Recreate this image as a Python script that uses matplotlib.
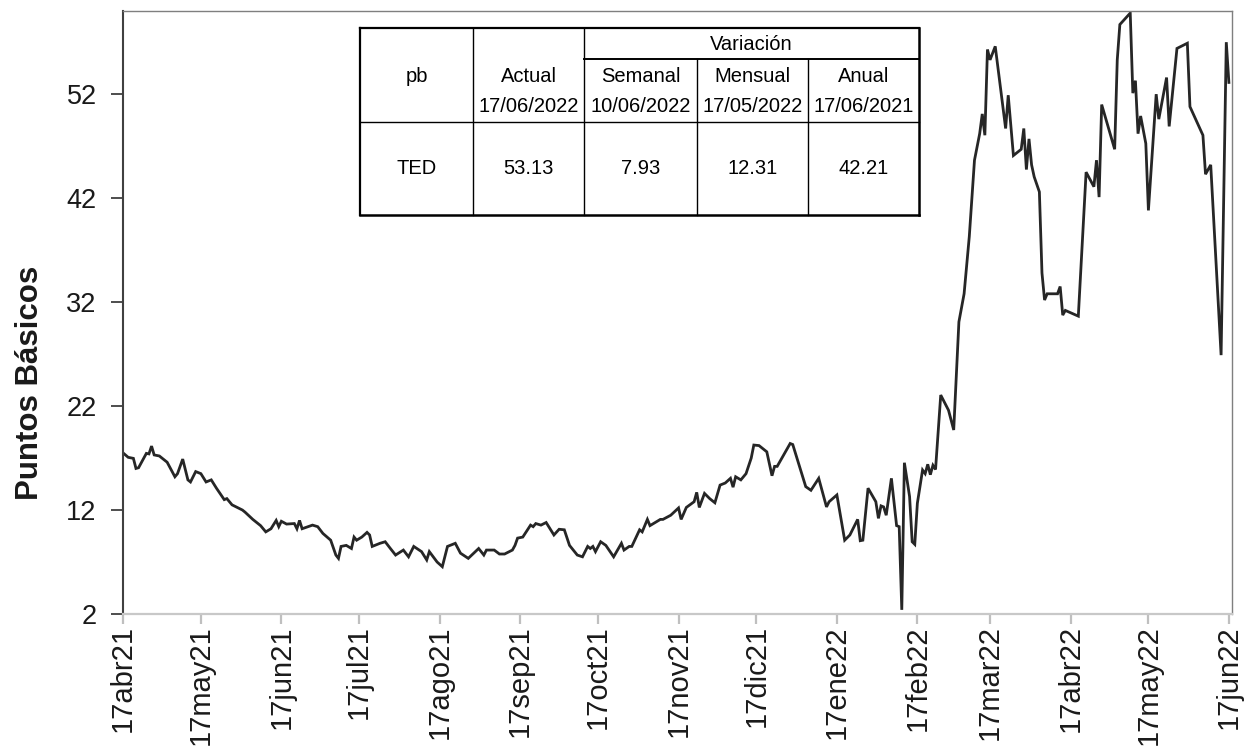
import matplotlib
matplotlib.use("Agg")
import matplotlib.pyplot as plt
from matplotlib.lines import Line2D
import pandas as pd

plt.rcParams['font.family'] = ['Liberation Sans', 'DejaVu Sans']

# ---------------- data ----------------
start_date = "2021-04-17"
day_offsets = [0, 2, 4, 5, 6, 9, 10, 11, 12, 14, 17, 20, 21, 23, 25, 26, 28, 30, 32, 34, 36, 39, 40, 42, 46, 47,
               50, 53, 55, 57, 59, 60, 61, 63, 66, 67, 68, 69, 73, 75, 77, 80, 82, 83, 84, 86, 88, 89, 90, 92, 94,
               95, 96, 99, 101, 103, 105, 108, 110, 112, 115, 117, 118, 121, 123, 125, 128, 130, 133, 137, 139,
               140, 143, 145, 147, 150, 151, 152, 154, 157, 158, 159, 161, 163, 166, 168, 170, 172, 175, 177, 179,
               180, 181, 182, 184, 186, 189, 192, 193, 195, 196, 199, 200, 202, 203, 207, 208, 211, 214, 215, 217,
               220, 221, 222, 224, 226, 228, 230, 232, 234, 235, 236, 238, 240, 242, 243, 245, 247, 248, 250, 251,
               252, 257, 258, 263, 265, 268, 271, 272, 275, 278, 280, 283, 284, 285, 287, 290, 291, 292, 293, 294,
               296, 298, 299, 300, 301, 303, 304, 305, 306, 308, 309, 310, 311, 312, 313, 315, 318, 320, 322, 324,
               326, 328, 330, 331, 332, 333, 334, 336, 340, 341, 343, 346, 347, 348, 349, 350, 351, 353, 354, 355,
               356, 360, 361, 362, 363, 368, 371, 374, 375, 376, 377, 382, 383, 384, 388, 389, 390, 391, 392, 394,
               395, 398, 399, 402, 403, 406, 410, 411, 416, 417, 419, 423, 425, 426]
ted_values = [17.5, 17.07, 16.97, 16.0, 16.07, 17.45, 17.4, 18.15, 17.3, 17.2, 16.6, 15.2, 15.5, 16.9, 14.9, 14.7,
              15.7, 15.5, 14.7, 14.9, 14.1, 13.0, 13.1, 12.5, 12.0, 11.8, 11.1, 10.5, 9.9, 10.2, 11.0, 10.4, 10.92,
              10.65, 10.7, 10.2, 11.0, 10.2, 10.55, 10.4, 9.75, 9.1, 7.67, 7.35, 8.5, 8.6, 8.3, 9.4, 9.1, 9.4, 9.85,
              9.6, 8.5, 8.8, 8.95, 8.3, 7.67, 8.15, 7.5, 8.5, 8.0, 7.2, 8.0, 7.0, 6.55, 8.5, 8.8, 7.85, 7.35, 8.3,
              7.67, 8.15, 8.15, 7.77, 7.77, 8.15, 8.6, 9.3, 9.4, 10.55, 10.4, 10.7, 10.55, 10.8, 9.6, 10.15, 10.1,
              8.6, 7.67, 7.5, 8.5, 8.3, 8.5, 8.0, 8.95, 8.6, 7.5, 8.8, 8.15, 8.5, 8.5, 10.1, 9.9, 11.1, 10.5, 11.1,
              11.1, 11.5, 12.2, 11.1, 12.25, 12.8, 13.7, 12.25, 13.6, 13.1, 12.7, 14.4, 14.6, 15.05, 14.2, 15.2,
              14.9, 15.5, 17.0, 18.25, 18.2, 17.8, 17.6, 15.3, 16.2, 16.2, 18.4, 18.3, 14.25, 13.9, 15.05, 12.3,
              12.8, 13.45, 9.1, 9.6, 11.1, 9.05, 9.1, 14.1, 12.8, 11.2, 12.4, 12.3, 11.5, 15.05, 10.5, 10.4, 2.4,
              16.55, 13.3, 8.95, 8.7, 12.65, 15.85, 15.5, 16.4, 15.4, 16.3, 15.9, 23.06, 21.6, 19.7, 30.1, 32.8,
              38.3, 45.65, 48.2, 50.1, 48.05, 56.3, 55.3, 56.6, 48.7, 51.9, 46.1, 46.7, 48.7, 44.75, 47.7, 45.2,
              44.05, 42.6, 34.8, 32.2, 32.8, 32.8, 33.5, 30.75, 31.2, 30.65, 44.5, 43.1, 45.65, 42.1, 51.0, 46.7,
              55.3, 58.7, 59.8, 52.1, 53.3, 48.2, 49.9, 47.25, 40.82, 52.0, 49.6, 53.6, 48.9, 56.4, 56.9, 50.8,
              48.05, 44.3, 45.2, 26.9, 57.0, 53.13]

tick_dates = ["2021-04-17", "2021-05-17", "2021-06-17", "2021-07-17", "2021-08-17", "2021-09-17",
              "2021-10-17", "2021-11-17", "2021-12-17", "2022-01-17", "2022-02-17", "2022-03-17",
              "2022-04-17", "2022-05-17", "2022-06-17"]
tick_labels = ["17abr21", "17may21", "17jun21", "17jul21", "17ago21", "17sep21", "17oct21", "17nov21",
               "17dic21", "17ene22", "17feb22", "17mar22", "17abr22", "17may22", "17jun22"]
y_ticks = [2, 12, 22, 32, 42, 52]

table_header = ["pb", "Actual", "Semanal", "Mensual", "Anual"]
table_dates = ["17/06/2022", "10/06/2022", "17/05/2022", "17/06/2021"]
table_row = ["TED", "53.13", "7.93", "12.31", "42.21"]

# ---------------- figure ----------------
W, H = 1251, 750
fig = plt.figure(figsize=(W / 100, H / 100), dpi=100)
ax = fig.add_axes([123 / W, 1 - 614 / H, (1232 - 123) / W, (614 - 11) / H])

dates = pd.Timestamp(start_date) + pd.to_timedelta(day_offsets, unit="D")
ax.plot(dates, ted_values, color="#262626", lw=2.0, solid_joinstyle="miter")

ax.set_ylim(2, 60)
ax.set_xlim(pd.Timestamp(start_date), pd.Timestamp(start_date) + pd.Timedelta(days=427.2))
ax.set_yticks(y_ticks)
ax.set_yticklabels([str(v) for v in y_ticks], fontsize=19.5, color="#1a1a1a")
ax.set_xticks(pd.to_datetime(tick_dates))
ax.set_xticklabels(tick_labels, rotation=90, fontsize=21, color="#1a1a1a")

ax.tick_params(axis="y", direction="out", length=9, width=1.3, color="#404040", pad=10)
ax.tick_params(axis="x", direction="out", length=7, width=1.6, color="#bfbfbf", pad=1)
ax.spines["left"].set_color("#404040")
ax.spines["left"].set_linewidth(1.5)
ax.spines["bottom"].set_color("#c8c8c8")
ax.spines["bottom"].set_linewidth(1.6)
for s in ("top", "right"):
    ax.spines[s].set_color("#7f7f7f")
    ax.spines[s].set_linewidth(1.0)

fig.text(30 / W, 1 - 383 / H, "Puntos Básicos", rotation=90, fontsize=22.5, fontweight="bold",
         ha="center", va="center", color="#1a1a1a")

# ---------------- table ----------------
def fx(x):
    return x / W


def fy(y):
    return 1 - y / H


def line(x0, y0, x1, y1, lw=1.0):
    fig.add_artist(Line2D([fx(x0), fx(x1)], [fy(y0), fy(y1)], color="black", lw=lw,
                          transform=fig.transFigure, solid_capstyle="projecting"))


col_x = [360, 473, 584, 697, 808, 919]
row_y = [28, 59, 122, 215]

fig.add_artist(plt.Rectangle((fx(col_x[0]), fy(row_y[-1])), fx(col_x[-1]) - fx(col_x[0]),
                             fy(row_y[0]) - fy(row_y[-1]), transform=fig.transFigure,
                             facecolor="white", edgecolor="none", zorder=2))
line(col_x[0], row_y[0], col_x[-1], row_y[0], 1.6)
line(col_x[0], row_y[-1], col_x[-1], row_y[-1], 1.8)
line(col_x[0], row_y[0], col_x[0], row_y[-1], 1.6)
line(col_x[-1], row_y[0], col_x[-1], row_y[-1], 1.8)
line(col_x[2], row_y[1], col_x[-1], row_y[1], 1.4)
line(col_x[0], row_y[2], col_x[-1], row_y[2], 1.0)
line(col_x[1], row_y[0], col_x[1], row_y[-1], 1.0)
line(col_x[2], row_y[0], col_x[2], row_y[-1], 1.0)
line(col_x[3], row_y[1], col_x[3], row_y[-1], 1.0)
line(col_x[4], row_y[1], col_x[4], row_y[-1], 1.0)

tfs = 14.5
cx = [(col_x[i] + col_x[i + 1]) / 2 for i in range(5)]
fig.text(fx((col_x[2] + col_x[-1]) / 2), fy(44), "Variación", fontsize=tfs, ha="center", va="center")
fig.text(fx(cx[0]), fy(76), table_header[0], fontsize=tfs, ha="center", va="center")
for i in range(1, 5):
    fig.text(fx(cx[i]), fy(76), table_header[i], fontsize=tfs, ha="center", va="center")
    fig.text(fx(cx[i]), fy(106), table_dates[i - 1], fontsize=tfs, ha="center", va="center")
for i in range(5):
    fig.text(fx(cx[i]), fy(169), table_row[i], fontsize=tfs, ha="center", va="center")

fig.savefig("out.png", dpi=100)
